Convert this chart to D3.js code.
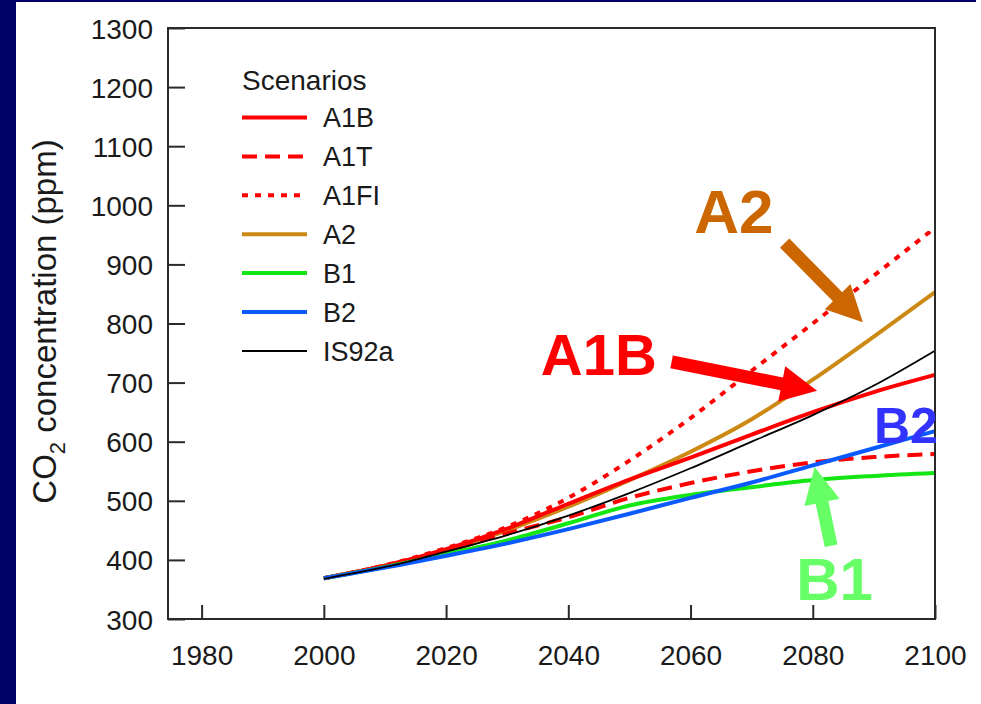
<!DOCTYPE html>
<html>
<head>
<meta charset="utf-8">
<script src="https://cdn.jsdelivr.net/npm/d3@7"></script>
<style>
  body { margin: 0; background: #fff; }
  svg { display: block; }
</style>
</head>
<body>
<svg id="chart" width="981" height="704"></svg>
<script>
// CO2 concentration projections, SRES scenarios + IS92a

var years = [2000, 2010, 2020, 2030, 2040, 2050, 2060, 2070, 2080, 2090, 2100];

var A1B   = [369, 390, 418, 453, 495, 536, 573, 612, 650, 684, 713];
var A1T   = [369, 390, 415, 445, 472, 505, 530, 550, 565, 574, 579];
var A1FI  = [369, 391, 420, 456, 505, 568, 640, 720, 800, 881, 962];
var A2    = [369, 390, 416, 450, 490, 535, 583, 638, 705, 778, 853];
var B1    = [369, 388, 410, 433, 462, 492, 510, 523, 535, 542, 547];
var B2    = [369, 387, 407, 428, 452, 478, 505, 531, 560, 589, 618];
var IS92a = [368, 388, 414, 442, 475, 513, 555, 600, 645, 695, 754];

var xTicks = [1980, 2000, 2020, 2040, 2060, 2080, 2100];
var yTicks = [300, 400, 500, 600, 700, 800, 900, 1000, 1100, 1200, 1300];

var legendNames = ["A1B", "A1T", "A1FI", "A2", "B1", "B2", "IS92a"];

var WIDTH = 981, HEIGHT = 704;
var LEFT = 168, RIGHT = 935, TOP = 28, BOTTOM = 619;
var FONT = "'Liberation Sans', Arial, Helvetica, sans-serif";

var svg = d3.select("#chart");

// slide background bits (navy band on the left and top)
svg.append("rect").attr("x", 0).attr("y", 0).attr("width", 976).attr("height", 2).attr("fill", "#000066");
svg.append("rect").attr("x", 0).attr("y", 0).attr("width", 16).attr("height", HEIGHT).attr("fill", "#000066");

var x = d3.scaleLinear().domain([1974.5, 2100]).range([LEFT, RIGHT]);
var y = d3.scaleLinear().domain([300, 1300]).range([BOTTOM, TOP]);

// line styles
var style = {
  "A1B":   { data: A1B,   color: "#ff0000", width: 4, dash: null },
  "A1T":   { data: A1T,   color: "#ff0000", width: 4, dash: "15,8" },
  "A1FI":  { data: A1FI,  color: "#ff0000", width: 4, dash: "6,7" },
  "A2":    { data: A2,    color: "#cc8a14", width: 4, dash: null },
  "B1":    { data: B1,    color: "#14e614", width: 4, dash: null },
  "B2":    { data: B2,    color: "#0a5aff", width: 4, dash: null },
  "IS92a": { data: IS92a, color: "#000000", width: 1.8, dash: null }
};

var line = d3.line()
  .x(function (d) { return x(d[0]); })
  .y(function (d) { return y(d[1]); })
  .curve(d3.curveMonotoneX);

// draw order so red sits over gold and the black line on top
var drawOrder = ["A2", "A1FI", "A1T", "A1B", "B1", "B2", "IS92a"];
drawOrder.forEach(function (name) {
  var s = style[name];
  svg.append("path")
    .datum(years.map(function (yr, i) { return [yr, s.data[i]]; }))
    .attr("d", line)
    .attr("fill", "none")
    .attr("stroke", s.color)
    .attr("stroke-width", s.width)
    .attr("stroke-dasharray", s.dash);
});

// frame
svg.append("rect")
  .attr("x", LEFT).attr("y", TOP)
  .attr("width", RIGHT - LEFT).attr("height", BOTTOM - TOP)
  .attr("fill", "none").attr("stroke", "#2a2a2a").attr("stroke-width", 2);

// axes with inward ticks
var yAxis = d3.axisLeft(y).tickValues(yTicks).tickSize(-17).tickPadding(32).tickFormat(d3.format("d"));
var xAxis = d3.axisBottom(x).tickValues(xTicks).tickSize(-14).tickPadding(30).tickFormat(d3.format("d"));

var gy = svg.append("g").attr("transform", "translate(" + LEFT + ",0)").call(yAxis);
var gx = svg.append("g").attr("transform", "translate(0," + BOTTOM + ")").call(xAxis);

[gx, gy].forEach(function (g) {
  g.select(".domain").remove();
  g.selectAll(".tick line").attr("stroke", "#2a2a2a").attr("stroke-width", 2);
  g.selectAll(".tick text")
    .attr("fill", "#1a1a1a")
    .style("font-family", FONT)
    .style("font-size", "28px");
});
gy.selectAll(".tick text").attr("x", -15).attr("dy", "0.36em");
gx.selectAll(".tick text").attr("y", 46).attr("dy", 0);

// y axis title
var title = svg.append("text")
  .attr("transform", "translate(56," + ((TOP + BOTTOM) / 2 - 2) + ") rotate(-90)")
  .attr("text-anchor", "middle")
  .attr("fill", "#1a1a1a")
  .style("font-family", FONT)
  .style("font-size", "33px");
title.append("tspan").text("CO");
title.append("tspan").attr("dy", 9).style("font-size", "22px").text("2");
title.append("tspan").attr("dy", -9).text(" concentration (ppm)");

// legend
var legend = svg.append("g").attr("transform", "translate(242,0)");
legend.append("text")
  .attr("x", 0).attr("y", 90)
  .attr("fill", "#1a1a1a")
  .style("font-family", FONT).style("font-size", "28px")
  .text("Scenarios");

legendNames.forEach(function (name, i) {
  var s = style[name];
  var ly = 117.5 + i * 38.9;
  legend.append("line")
    .attr("x1", 0).attr("x2", 65).attr("y1", ly).attr("y2", ly)
    .attr("stroke", s.color).attr("stroke-width", s.width === 4 ? 4 : 2)
    .attr("stroke-dasharray", s.dash);
  legend.append("text")
    .attr("x", 81).attr("y", ly).attr("dy", "0.36em")
    .attr("fill", "#1a1a1a")
    .style("font-family", FONT).style("font-size", "27px")
    .text(name);
});

// annotations (positions in data units)
function arrow(x0, y0, x1, y1, color) {
  var ax = x(x0), ay = y(y0), bx = x(x1), by = y(y1);
  var dx = bx - ax, dy = by - ay, len = Math.sqrt(dx * dx + dy * dy);
  var ux = dx / len, uy = dy / len, px = -uy, py = ux;
  var head = 36, hw = 18, sw = 6.5;
  var cx = bx - ux * head, cy = by - uy * head;
  var pts = [
    [ax + px * sw, ay + py * sw],
    [cx + px * sw, cy + py * sw],
    [cx + px * hw, cy + py * hw],
    [bx, by],
    [cx - px * hw, cy - py * hw],
    [cx - px * sw, cy - py * sw],
    [ax - px * sw, ay - py * sw]
  ];
  svg.append("polygon")
    .attr("points", pts.map(function (p) { return p.join(","); }).join(" "))
    .attr("fill", color);
}

function label(txt, yr, ppm, size, color) {
  svg.append("text")
    .attr("x", x(yr)).attr("y", y(ppm))
    .attr("fill", color)
    .style("font-family", FONT)
    .style("font-weight", "bold")
    .style("font-size", size + "px")
    .text(txt);
}

arrow(2075.4, 936, 2088.2, 802, "#cc6600");
label("A2", 2060.6, 953, 62, "#cc6600");

arrow(2056.9, 735, 2080.7, 686, "#ff0000");
label("A1B", 2035.5, 713, 58, "#ff0000");

label("B2", 2090.0, 598, 50, "#3333ff");

arrow(2083.0, 424, 2080.3, 557, "#66ff66");
label("B1", 2077.3, 332, 60, "#66ff66");
</script>
</body>
</html>
